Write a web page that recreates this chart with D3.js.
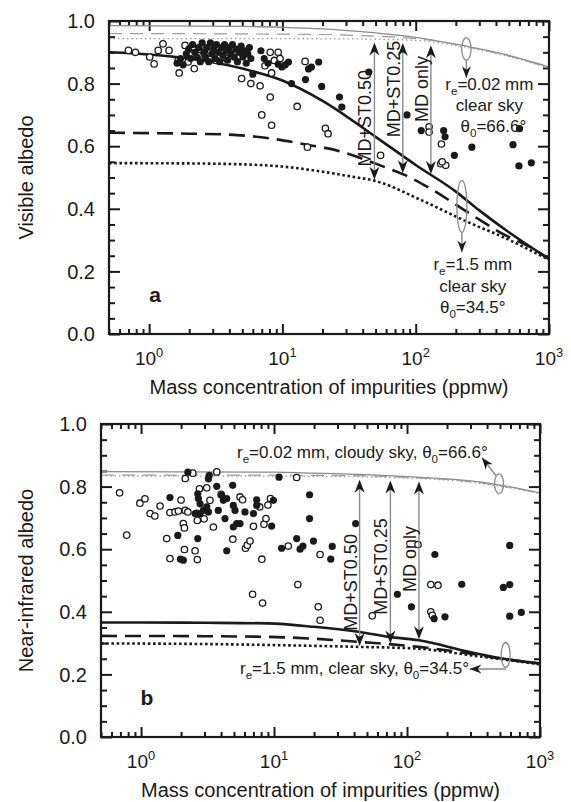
<!DOCTYPE html>
<html>
<head>
<meta charset="utf-8">
<script src="https://cdn.jsdelivr.net/npm/d3@7"></script>
<style>
  body { margin: 0; background: #fff; }
  svg { display: block; font-family: "Liberation Sans", Arial, Helvetica, sans-serif; }
</style>
</head>
<body>
<svg id="fig" width="571" height="802"></svg>
<script>
// ---- data: [mass concentration (ppmw), albedo] ----

// panel a, visible albedo, modelled curves
const visThinSolid = [[0.5,0.985],[5,0.983],[10,0.98],[20,0.975],[50,0.962],[100,0.948],[200,0.926],[500,0.89],[1000,0.853]];
const visThinDash  = [[0.5,0.96],[10,0.958],[30,0.955],[60,0.95],[100,0.944],[200,0.925],[500,0.888],[1000,0.851]];
const visThinDot   = [[0.5,0.944],[30,0.943],[100,0.938],[200,0.922],[500,0.886],[1000,0.85]];
const visThickSolid = [[0.5,0.90],[1,0.893],[2,0.88],[5,0.848],[10,0.81],[20,0.745],[50,0.63],[100,0.54],[200,0.455],[300,0.395],[500,0.325],[1000,0.24]];
const visThickDash  = [[0.5,0.643],[2,0.64],[4,0.637],[9,0.622],[16,0.603],[22,0.593],[58,0.534],[86,0.505],[134,0.46],[254,0.385],[450,0.32],[720,0.278],[1000,0.24]];
const visThickDot   = [[0.5,0.546],[2,0.545],[5,0.542],[10,0.535],[19,0.52],[34,0.502],[49,0.49],[107,0.43],[254,0.355],[450,0.31],[1000,0.237]];

// panel a, measured samples
const visFilled = [
  [1.62,0.865],[1.72,0.88],[1.80,0.86],[1.90,0.895],[1.98,0.91],[2.05,0.88],[2.12,0.925],[2.20,0.90],
  [2.28,0.885],[2.35,0.915],[2.42,0.87],[2.50,0.93],[2.58,0.90],[2.65,0.885],[2.72,0.915],[2.80,0.87],
  [2.88,0.93],[2.95,0.895],[3.05,0.91],[3.12,0.88],[3.20,0.925],[3.30,0.90],[3.38,0.87],[3.48,0.915],
  [3.58,0.89],[3.68,0.925],[3.78,0.905],[3.88,0.875],[3.98,0.915],[4.10,0.895],[4.22,0.925],[4.35,0.885],
  [4.48,0.91],[4.60,0.87],[4.75,0.90],[4.90,0.92],[5.05,0.885],[5.20,0.905],[5.35,0.865],[5.50,0.895],
  [5.65,0.915],[5.80,0.88],[6.0,0.83],[6.9,0.905],[7.3,0.88],[7.8,0.865],[9.3,0.862],[9.9,0.853],
  [10.5,0.86],[11.1,0.869],[11.7,0.80],[14.9,0.813],[15.7,0.847],[16.5,0.853],[18.7,0.869],[19.7,0.791],
  [26.8,0.757],[27.9,0.725],[44.5,0.837],[86,0.70],[110,0.65],[162,0.65],[166,0.63],[195,0.571],
  [264,0.597],[537,0.605],[601,0.656],[595,0.537],[737,0.547]
];
const visOpen = [
  [0.70,0.906],[0.79,0.90],[1.01,0.885],[1.09,0.863],[1.17,0.906],[1.27,0.927],[1.41,0.906],[1.65,0.874],
  [1.68,0.834],[1.86,0.922],[1.96,0.869],[2.18,0.848],[2.33,0.89],[2.6,0.905],[3.19,0.874],[3.79,0.88],
  [4.3,0.895],[4.94,0.816],[5.8,0.80],[6.8,0.793],[7.4,0.857],[8.1,0.757],[8.7,0.874],[8.3,0.834],
  [8.1,0.90],[9.3,0.90],[9.6,0.88],[7.0,0.70],[8.3,0.667],[12.9,0.727],[14.8,0.871],[15.4,0.597],
  [21,0.657],[22,0.64],[54.5,0.571],[126,0.662],[126,0.645],[156,0.607],[154,0.544],[168,0.539],[158,0.55]
];

// panel b, near-infrared albedo, modelled curves
const nirThinSolid = [[0.5,0.848],[10,0.846],[20,0.843],[50,0.838],[120,0.83],[300,0.818],[500,0.805],[1000,0.78]];
const nirThinDash  = [[0.5,0.837],[20,0.836],[50,0.834],[120,0.828],[300,0.816],[500,0.803],[1000,0.779]];
const nirThinDot   = [[0.5,0.834],[20,0.833],[50,0.831],[120,0.826],[300,0.814],[500,0.801],[1000,0.778]];
const nirThickSolid = [[0.5,0.366],[1,0.366],[3,0.365],[9,0.363],[20,0.352],[43,0.336],[73,0.32],[123,0.309],[292,0.272],[520,0.251],[1000,0.235]];
const nirThickDash  = [[0.5,0.323],[3,0.322],[9,0.32],[20,0.314],[43,0.304],[123,0.288],[292,0.267],[520,0.25],[1000,0.235]];
const nirThickDot   = [[0.5,0.299],[3,0.297],[9,0.294],[43,0.288],[123,0.282],[292,0.262],[520,0.248],[1000,0.232]];

// panel b, measured samples
const nirFilled = [
  [2.25,0.846],[3.26,0.836],[3.21,0.825],[1.65,0.765],[1.89,0.644],[1.98,0.568],[2.08,0.565],[2.67,0.634],
  [2.67,0.777],[2.70,0.762],[2.78,0.745],[2.62,0.715],[2.78,0.714],[2.94,0.724],[2.55,0.714],[3.12,0.735],
  [3.21,0.719],[3.71,0.801],[3.81,0.724],[4.04,0.772],[4.16,0.756],[4.28,0.698],[4.41,0.762],[4.41,0.595],
  [4.89,0.804],[4.94,0.740],[5.09,0.724],[4.94,0.671],[5.24,0.682],[5.55,0.682],[6.05,0.719],[7.0,0.714],
  [7.41,0.758],[7.41,0.740],[9.6,0.674],[9.9,0.756],[10.9,0.83],[11.4,0.603],[14.8,0.634],[15.7,0.6],
  [16.5,0.61],[18.5,0.774],[18.5,0.698],[19.8,0.626],[41.1,0.682],[27.4,0.609],[26.7,0.568],[84.6,0.456],
  [108,0.416],[162,0.583],[160,0.378],[193,0.384],[258,0.488],[530,0.478],[592,0.487],[592,0.612],
  [592,0.386],[723,0.398]
];
const nirOpen = [
  [0.69,0.780],[0.78,0.645],[0.98,0.747],[1.07,0.761],[1.17,0.714],[1.27,0.706],[1.39,0.738],[1.65,0.717],
  [1.56,0.634],[1.65,0.570],[1.80,0.719],[1.91,0.722],[2.0,0.757],[2.08,0.682],[2.12,0.668],[2.12,0.599],
  [2.15,0.724],[2.25,0.719],[2.15,0.826],[2.45,0.843],[2.55,0.595],[2.65,0.567],[2.65,0.692],[2.75,0.793],
  [2.98,0.697],[3.12,0.796],[3.30,0.756],[3.5,0.671],[3.71,0.847],[4.0,0.775],[4.9,0.632],[5.55,0.767],
  [5.8,0.758],[6.1,0.603],[6.3,0.613],[6.6,0.626],[7.0,0.673],[7.8,0.735],[8.1,0.568],[8.4,0.680],
  [8.7,0.698],[9.0,0.741],[9.4,0.762],[6.9,0.456],[8.2,0.428],[12.8,0.61],[14.8,0.829],[15.1,0.487],
  [21.5,0.416],[22.2,0.583],[22.2,0.373],[54.8,0.387],[121,0.615],[151,0.487],[171,0.485],[151,0.40],[155,0.389]
];

// difference arrows (labels, concentration where drawn, albedo of label centre)
const arrowLabels = ["MD+ST0.50", "MD+ST0.25", "MD only"];
const visArrowConc = [49, 80, 130];
const visArrowLabelAlb = [0.689, 0.783, 0.783];
const nirArrowConc = [44, 75, 123];
const nirArrowLabelAlb = [0.494, 0.545, 0.569];

// axis ticks
const xMajor = [1, 10, 100, 1000];
const yMajor = [0, 0.2, 0.4, 0.6, 0.8, 1.0];

// ---- drawing ----
const svg = d3.select("#fig");
const INK = "#1a1a1a";
const GREY = "#8a8a8a";

function interp(curve, c) {
  const lc = Math.log10(c);
  for (let i = 0; i < curve.length - 1; i++) {
    const a = Math.log10(curve[i][0]), b = Math.log10(curve[i + 1][0]);
    if (lc >= a && lc <= b) {
      const t = (lc - a) / (b - a);
      return curve[i][1] + t * (curve[i + 1][1] - curve[i][1]);
    }
  }
  return curve[curve.length - 1][1];
}

// filled barbed arrow head, tip at (x, y), pointing along angle (radians)
function head(g, x, y, ang, size = 1) {
  g.append("path")
    .attr("d", `M0,0 L${-13 * size},${-5 * size} L${-9 * size},0 L${-13 * size},${5 * size}Z`)
    .attr("transform", `translate(${x},${y}) rotate(${ang * 180 / Math.PI})`)
    .attr("fill", INK);
}

// text made of parts; sub / sup parts shrink and shift
function rich(g, x, y, parts, size, anchor = "start") {
  const t = g.append("text")
    .attr("x", x).attr("y", y)
    .attr("text-anchor", anchor)
    .attr("font-size", size)
    .attr("fill", INK);
  let shift = 0;
  parts.forEach(p => {
    const want = p.sub ? size * 0.3 : p.sup ? -size * 0.42 : 0;
    t.append("tspan")
      .attr("dy", want - shift)
      .attr("font-size", p.sub || p.sup ? size * 0.68 : size)
      .text(p.t);
    shift = want;
  });
  return t;
}

function minorTicks(domain) {
  const out = [];
  for (let d = 0.1; d < domain[1]; d *= 10) {
    for (let k = 2; k <= 9; k++) {
      const v = d * k;
      if (v > domain[0] && v < domain[1]) out.push(v);
    }
  }
  if (domain[0] === 0.5) out.unshift(0.5);
  return out;
}

function drawPanel(p) {
  const { x, y } = p;
  const g = svg.append("g");
  const [x0, x1] = x.range();
  const [y0, y1] = y.range();

  // ticks on all four sides, pointing inward
  const yMinor = d3.range(0.05, 1.0, 0.05).filter(v => Math.abs(v * 5 - Math.round(v * 5)) > 1e-6);
  const xMinor = minorTicks(x.domain());
  const axes = [
    [d3.axisBottom(x).tickValues(xMajor).tickSize(-10), `translate(0,${y0})`],
    [d3.axisBottom(x).tickValues(xMinor).tickSize(-5), `translate(0,${y0})`],
    [d3.axisTop(x).tickValues(xMajor).tickSize(-10), `translate(0,${y1})`],
    [d3.axisTop(x).tickValues(xMinor).tickSize(-5), `translate(0,${y1})`],
    [d3.axisLeft(y).tickValues(yMajor).tickSize(-11), `translate(${x0},0)`],
    [d3.axisLeft(y).tickValues(yMinor).tickSize(-6), `translate(${x0},0)`],
    [d3.axisRight(y).tickValues(yMajor).tickSize(-11), `translate(${x1},0)`],
    [d3.axisRight(y).tickValues(yMinor).tickSize(-6), `translate(${x1},0)`]
  ];
  axes.forEach(([ax, tr]) => {
    const a = g.append("g").attr("transform", tr).call(ax.tickFormat(""));
    a.select(".domain").remove();
    a.selectAll("line").attr("stroke", INK).attr("stroke-width", 2);
  });

  // y tick labels
  yMajor.forEach(v => {
    g.append("text")
      .attr("x", x0 - 14).attr("y", y(v)).attr("dy", "0.36em")
      .attr("text-anchor", "end").attr("font-size", 20).attr("fill", INK)
      .text(v.toFixed(1));
  });
  // x tick labels, 10^n
  xMajor.forEach(v => {
    rich(g, x(v), y0 + 31, [{ t: "10" }, { t: String(Math.round(Math.log10(v))), sup: true }], 19, "middle");
  });

  // axis titles
  g.append("text")
    .attr("x", (x0 + x1) / 2).attr("y", y0 + 60)
    .attr("text-anchor", "middle").attr("font-size", 20).attr("fill", INK)
    .text("Mass concentration of impurities (ppmw)");
  g.append("text")
    .attr("transform", `translate(33,${(y0 + y1) / 2}) rotate(-90)`)
    .attr("text-anchor", "middle").attr("font-size", 20).attr("fill", INK)
    .text(p.yTitle);

  // curves
  const line = d3.line().x(d => x(d[0])).y(d => y(d[1])).curve(d3.curveMonotoneX);
  const styles = [
    [p.thinSolid, GREY, 1.3, null],
    [p.thinDash, "#9a9a9a", 1.2, "13,8"],
    [p.thinDot, "#9a9a9a", 1.3, "1.5,3"],
    [p.thickDot, INK, 2.6, "2.6,2.6"],
    [p.thickDash, INK, 2.6, "16,8"],
    [p.thickSolid, INK, 2.6, null]
  ];
  styles.forEach(([data, col, w, dash]) => {
    g.append("path").datum(data)
      .attr("d", line)
      .attr("fill", "none")
      .attr("stroke", col)
      .attr("stroke-width", w)
      .attr("stroke-dasharray", dash);
  });

  // samples
  g.append("g").selectAll("circle").data(p.open).join("circle")
    .attr("cx", d => x(d[0])).attr("cy", d => y(d[1])).attr("r", 3.2)
    .attr("fill", "#fff").attr("stroke", INK).attr("stroke-width", 1.3);
  g.append("g").selectAll("circle").data(p.filled).join("circle")
    .attr("cx", d => x(d[0])).attr("cy", d => y(d[1])).attr("r", 3.6)
    .attr("fill", INK);

  // difference arrows
  const bottoms = [p.thickDot, p.thickDash, p.thickSolid];
  p.arrowConc.forEach((c, i) => {
    const ax = x(c);
    const top = y(interp(p.thinDot, c)) + 3;
    const bot = y(interp(bottoms[i], c)) - 1;
    g.append("line")
      .attr("x1", ax).attr("x2", ax).attr("y1", top + 6).attr("y2", bot - 6)
      .attr("stroke", GREY).attr("stroke-width", 1.4);
    head(g, ax, top, -Math.PI / 2);
    head(g, ax, bot, Math.PI / 2);
    g.append("text")
      .attr("transform", `translate(${ax - 3},${y(p.arrowLabelAlb[i])}) rotate(-90)`)
      .attr("text-anchor", "middle").attr("font-size", 18).attr("fill", INK)
      .text(arrowLabels[i]);
  });

  // panel letter
  g.append("text")
    .attr("x", p.letterPos[0]).attr("y", p.letterPos[1])
    .attr("text-anchor", "middle").attr("font-size", 21).attr("font-weight", "bold").attr("fill", INK)
    .text(p.letter);

  // frame
  g.append("rect")
    .attr("x", x0).attr("y", y1).attr("width", x1 - x0).attr("height", y0 - y1)
    .attr("fill", "none").attr("stroke", INK).attr("stroke-width", 2.2);

  p.notes(g, x, y);
}

function ellipse(g, cx, cy, rx, ry) {
  g.append("ellipse")
    .attr("cx", cx).attr("cy", cy).attr("rx", rx).attr("ry", ry)
    .attr("fill", "none").attr("stroke", GREY).attr("stroke-width", 1.3);
}
function pointer(g, xa, ya, xb, yb, size = 0.9) {
  g.append("line").attr("x1", xa).attr("y1", ya).attr("x2", xb).attr("y2", yb)
    .attr("stroke", GREY).attr("stroke-width", 1.4);
  head(g, xb, yb, Math.atan2(yb - ya, xb - xa), size);
}

// panel a
drawPanel({
  x: d3.scaleLog().domain([0.5, 1000]).range([109, 549]),
  y: d3.scaleLinear().domain([0, 1]).range([334, 21]),
  yTitle: "Visible albedo",
  thinSolid: visThinSolid, thinDash: visThinDash, thinDot: visThinDot,
  thickSolid: visThickSolid, thickDash: visThickDash, thickDot: visThickDot,
  filled: visFilled, open: visOpen,
  arrowConc: visArrowConc, arrowLabelAlb: visArrowLabelAlb,
  letter: "a", letterPos: [155, 302],
  notes: (g, x, y) => {
    const ex = x(240), ey = y(0.911);
    ellipse(g, ex, ey, 4.7, 11);
    pointer(g, ex, ey + 11, ex, ey + 29);
    const tx = x(357);
    rich(g, tx, 90, [{ t: "r" }, { t: "e", sub: true }, { t: "=0.02 mm" }], 17, "middle");
    rich(g, tx, 111, [{ t: "clear sky" }], 17, "middle");
    rich(g, tx + 4, 132, [{ t: "θ" }, { t: "0", sub: true }, { t: "=66.6°" }], 17, "middle");

    const fx = x(222), fy = y(0.408);
    ellipse(g, fx, fy, 5, 26);
    pointer(g, fx, fy + 26, fx, fy + 46);
    const ux = x(268);
    rich(g, ux, 270, [{ t: "r" }, { t: "e", sub: true }, { t: "=1.5 mm" }], 17, "middle");
    rich(g, ux, 292, [{ t: "clear sky" }], 17, "middle");
    rich(g, ux, 313, [{ t: "θ" }, { t: "0", sub: true }, { t: "=34.5°" }], 17, "middle");
  }
});

// panel b
drawPanel({
  x: d3.scaleLog().domain([0.5, 1000]).range([101, 540]),
  y: d3.scaleLinear().domain([0, 1]).range([737, 424]),
  yTitle: "Near-infrared albedo",
  thinSolid: nirThinSolid, thinDash: nirThinDash, thinDot: nirThinDot,
  thickSolid: nirThickSolid, thickDash: nirThickDash, thickDot: nirThickDot,
  filled: nirFilled, open: nirOpen,
  arrowConc: nirArrowConc, arrowLabelAlb: nirArrowLabelAlb,
  letter: "b", letterPos: [147, 705],
  notes: (g, x, y) => {
    const ex = x(492), ey = y(0.809);
    ellipse(g, ex, ey, 4.5, 10);
    pointer(g, ex - 3, ey - 8, ex - 17, ey - 26);
    rich(g, 237, 458, [{ t: "r" }, { t: "e", sub: true }, { t: "=0.02 mm, cloudy sky, θ" }, { t: "0", sub: true }, { t: "=66.6°" }], 17);

    const fx = x(552), fy = y(0.262);
    ellipse(g, fx, fy, 4.5, 12.5);
    pointer(g, fx, fy + 14, fx - 36, fy + 14);
    rich(g, 240, 674, [{ t: "r" }, { t: "e", sub: true }, { t: "=1.5 mm, clear sky, θ" }, { t: "0", sub: true }, { t: "=34.5°" }], 17);
  }
});
</script>
</body>
</html>
